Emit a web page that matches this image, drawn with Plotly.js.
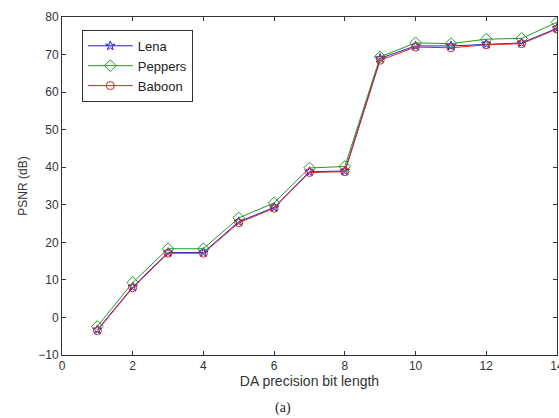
<!DOCTYPE html>
<html>
<head>
<meta charset="utf-8">
<script src="https://cdn.plot.ly/plotly-3.0.1.min.js"></script>
<style>html,body{margin:0;padding:0;background:#fff;}#chart{width:559px;height:418px;}</style>
</head>
<body>
<div id="chart"></div>
<script>
const bits = [1, 2, 3, 4, 5, 6, 7, 8, 9, 10, 11, 12, 13, 14];
const lena = [-3.3, 8.1, 17.3, 17.3, 25.5, 29.3, 38.8, 39.0, 69.0, 72.3, 72.3, 72.8, 73.1, 77.0];
const peppers = [-2.4, 9.3, 18.3, 18.3, 26.5, 30.5, 39.8, 40.2, 69.4, 73.1, 72.9, 74.1, 74.3, 78.6];
const baboon = [-3.5, 7.9, 17.1, 17.1, 25.2, 29.1, 38.6, 38.8, 68.5, 72.0, 71.8, 72.6, 72.9, 76.8];
const xTicks = [0, 2, 4, 6, 8, 10, 12, 14];
const yTicks = [-10, 0, 10, 20, 30, 40, 50, 60, 70, 80];

const mk = (name, y, color, symbol, size) => ({
  x: bits, y: y, name: name, type: 'scatter', mode: 'lines+markers',
  line: {color: color, width: 1},
  marker: {symbol: symbol, size: size, color: color, line: {color: color, width: 1}}
});

const data = [
  mk('Lena', lena, '#2222dd', 'star-open', 7),
  mk('Peppers', peppers, '#229922', 'diamond-open', 9),
  mk('Baboon', baboon, '#dd2222', 'circle-open', 8)
];

const axisCommon = {
  showgrid: false, zeroline: false, showline: true, mirror: 'ticks',
  linecolor: '#333', linewidth: 1, ticks: 'inside', ticklen: 4, tickcolor: '#333',
  ticklabeloverflow: 'allow',
  tickfont: {family: 'Liberation Sans, Arial, sans-serif', size: 12, color: '#333'}
};

const layout = {
  width: 559, height: 418,
  margin: {l: 62, r: 2, t: 17, b: 63},
  paper_bgcolor: '#fff', plot_bgcolor: '#fff',
  showlegend: true,
  legend: {
    x: 0.04, y: 0.962, xanchor: 'left', yanchor: 'top',
    bordercolor: '#333', borderwidth: 1, bgcolor: '#fff',
    font: {family: 'Liberation Sans, Arial, sans-serif', size: 13, color: '#222'},
    tracegroupgap: 0, itemwidth: 45
  },
  xaxis: Object.assign({}, axisCommon, {
    range: [0, 14], tickvals: xTicks,
    title: {text: 'DA precision bit length', standoff: 3,
      font: {family: 'Liberation Sans, Arial, sans-serif', size: 14, color: '#333'}}
  }),
  yaxis: Object.assign({}, axisCommon, {
    range: [-10, 80], tickvals: yTicks,
    title: {text: 'PSNR (dB)', standoff: 8,
      font: {family: 'Liberation Sans, Arial, sans-serif', size: 12, color: '#333'}}
  }),
  annotations: [{
    text: '(a)', xref: 'paper', yref: 'paper', x: 0.447, y: -0.157,
    xanchor: 'center', yanchor: 'middle', showarrow: false,
    font: {family: 'Liberation Serif, Times New Roman, serif', size: 14, color: '#222'}
  }]
};

Plotly.newPlot('chart', data, layout, {displayModeBar: false, staticPlot: true});
</script>
</body>
</html>
